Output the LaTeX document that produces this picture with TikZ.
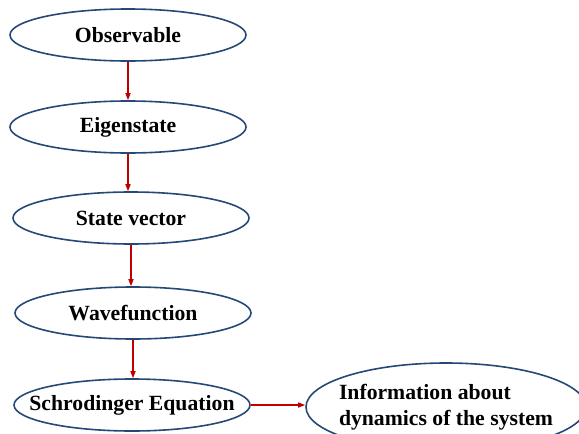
\documentclass[tikz,border=0pt]{standalone}
\usepackage{fontspec}
\setmainfont{Liberation Serif}
\usetikzlibrary{shapes.geometric, arrows.meta}
\definecolor{ellblue}{RGB}{37,72,119}
\definecolor{arrred}{RGB}{192,0,0}
\tikzset{
  stage/.style={ellipse, draw=ellblue, line width=1.6pt, minimum width=236pt, minimum height=52pt, inner xsep=-20pt, inner ysep=0pt, font=\fontsize{21.7}{26}\selectfont\bfseries},
  flow/.style={-{Triangle[length=7pt,width=5pt]}, draw=arrred, line width=1.4pt}
}
\begin{document}
\begin{tikzpicture}[x=1pt, y=-1pt]
            \useasboundingbox (0,0) rectangle (579,434);
            \clip (0,0) rectangle (579,434);
            % Ellipses with labels
            \node at (128,35) [stage] (O) {Observable};
            \node at (128,127) [stage] (E) {Eigenstate};
            \node at (131,218) [stage] (S) {State vector};
            \node at (133,313) [stage] (W) {Wavefunction};
            \node at (132,405) [stage] (Sch) {Schrodinger Equation};
            \node at (446,407) [stage, minimum width=280pt, minimum height=88pt, align=left] (I) {Information about\\dynamics of the system};

            % Arrows
            \draw[flow] (O.south) -- (E.north);
            \draw[flow] (E.south) -- (S.north -| E.south);
            \draw[flow] (S.south) -- (W.north -| S.south);
            \draw[flow] (W.south) -- (Sch.north -| W.south);
            \draw[flow] (Sch.east) -- (I.west |- Sch.east);
\end{tikzpicture}
\end{document}
